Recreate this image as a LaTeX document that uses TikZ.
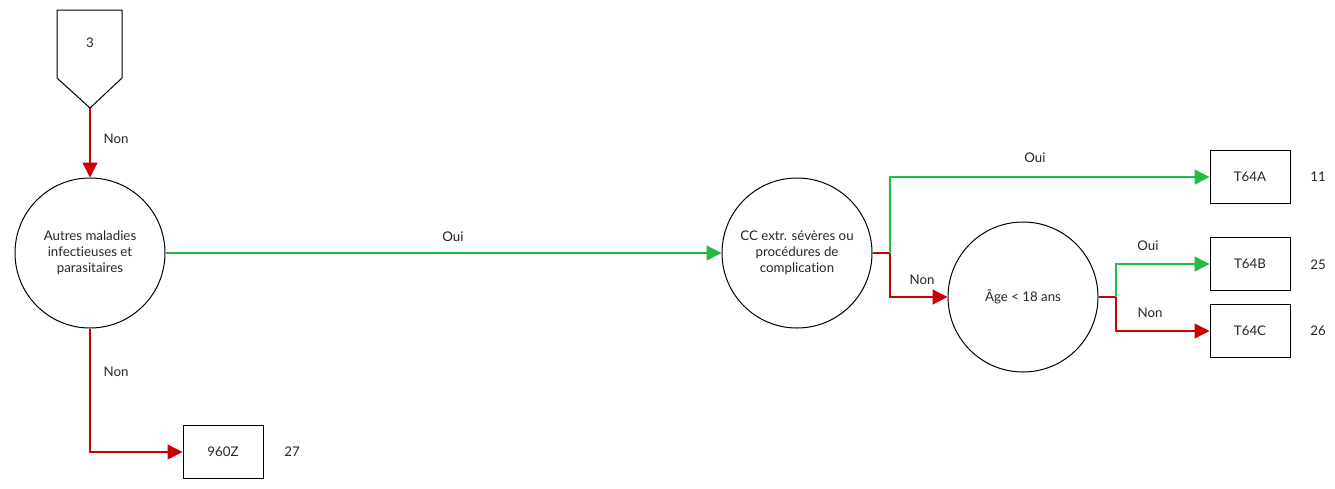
\documentclass[tikz,border=0pt]{standalone}
\usepackage{fontspec}
\setmainfont{Lato}[Ligatures={NoCommon,NoRequired,NoContextual}]
\usetikzlibrary{arrows.meta}
\definecolor{gr}{RGB}{34,187,68}
\definecolor{rd}{RGB}{204,0,0}
\begin{document}
\begin{tikzpicture}[x=1pt,y=-1pt,
  every node/.style={font=\fontsize{13.3}{16}\selectfont, text=black!85},
  circ/.style={draw, circle, minimum size=150pt, inner sep=0pt, align=center, line width=1pt},
  leaf/.style={draw, rectangle, minimum width=80pt, minimum height=53pt, inner sep=0pt, line width=1pt},
  yes/.style={gr, line width=1.3pt, -{Triangle[length=15pt,width=15pt]}},
  no/.style={rd, line width=1.3pt, -{Triangle[length=15pt,width=15pt]}},
  stub/.style={rd, line width=1.3pt},
  lbl/.style={inner sep=0pt}]
\useasboundingbox (0,0) rectangle (1335,488);
% off-page connector
\draw[line width=1pt] (57,10) -- (122,10) -- (122,78) -- (90,108) -- (57,78) -- cycle;
\coordinate (p) at (90,108);
\node[lbl] (pt) at (90,43) {3};
% nodes
\node[circ] (c1) at (90,253) {Autres maladies\\infectieuses et\\parasitaires};
\node[circ] (c2) at (797,253) {CC extr. sévères ou\\procédures de\\complication};
\node[circ] (c3) at (1023,297) {Âge < 18 ans};
\node[leaf] (a) at (1250,177) {T64A};
\node[leaf] (b) at (1250,264) {T64B};
\node[leaf] (c) at (1250,331) {T64C};
\node[leaf] (z) at (223,452) {960Z};
\node[lbl] at (1318,177) {11};
\node[lbl] at (1318,265) {25};
\node[lbl] at (1318,331) {26};
\node[lbl] at (292,452) {27};
\coordinate (j2) at (890,253);
\coordinate (j3) at (1116,297);
% connectors
\draw[no] (p) -- (c1.north);
\node[lbl] at (116,139) {Non};
\draw[yes] (c1.east) -- (c2.west);
\node[lbl] at (453,237) {Oui};
\draw[no] (c1.south) |- (z.west);
\node[lbl] at (116,372) {Non};
\draw[stub] (c2.east) -- (j2);
\draw[yes] (j2) |- (a.west);
\draw[no] (j2) |- (c3.west);
\node[lbl] at (1035,158) {Oui};
\node[lbl] at (922,280) {Non};
\draw[stub] (c3.east) -- (j3);
\draw[yes] (j3) |- (b.west);
\draw[no] (j3) |- (c.west);
\node[lbl] at (1148,246) {Oui};
\node[lbl] at (1150,313) {Non};
\end{tikzpicture}
\end{document}
